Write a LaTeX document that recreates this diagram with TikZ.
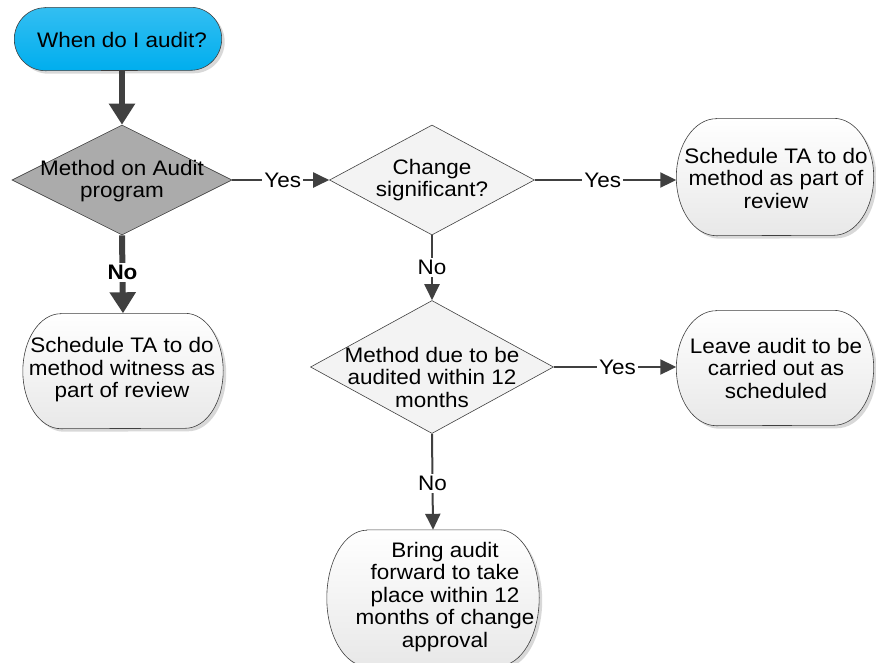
\documentclass[tikz,border=0pt]{standalone}
\usepackage{fontspec}
\setmainfont[FakeStretch=1.07]{Liberation Sans}
\usetikzlibrary{shapes.geometric,arrows.meta,shadows,backgrounds}
\definecolor{linegray}{HTML}{404040}
\definecolor{startblue}{HTML}{00AEEE}
\definecolor{darkdia}{HTML}{ABABAB}
\definecolor{lightdia}{HTML}{F3F3F3}
\definecolor{termfill}{HTML}{E8E8E8}
\tikzset{
  txt/.style={font=\fontsize{21}{22.5}\selectfont, align=center, inner sep=0pt},
  shade box/.style={drop shadow={shadow xshift=3pt, shadow yshift=-3pt, fill=black!30, opacity=0.5}},
  termbox/.style={rectangle, inner sep=0pt, txt},
  termline/.style={draw=linegray, line width=0.6pt, shade box, top color=white, bottom color=termfill},
  startline/.style={draw=linegray, line width=0.6pt, shade box, top color=startblue!80!white, bottom color=startblue},
  decision/.style={diamond, draw=linegray, line width=0.6pt, inner sep=0pt, aspect=2},
  flow/.style={draw=linegray, line width=2pt, -{Triangle[length=16pt, width=15pt]}},
  bigflow/.style={draw=linegray, line width=6pt, -{Triangle[length=21pt, width=25pt]}},
  lbl/.style={fill=white, txt, inner sep=2pt, text=black},
}
% outline of a terminal: straight top and bottom, elliptic ends
% #1 node, #2 end x-radius, #3 half height, #4 style
\newcommand\termoutline[4]{%
  \path[#4] ([xshift=#2]#1.north west) -- ([xshift=-#2]#1.north east)
    arc[start angle=90, end angle=-90, x radius=#2, y radius=#3]
    -- ([xshift=#2]#1.south west)
    arc[start angle=270, end angle=90, x radius=#2, y radius=#3] -- cycle;}
\begin{document}
\begin{tikzpicture}[x=1pt, y=-1pt]
  \useasboundingbox (0,0) rectangle (876,662);

  % terminal frames (text nodes; outlines go on the background layer)
  \node[termbox, minimum width=207pt, minimum height=63pt] (start) at (118,39) {};
  \node[txt] (startt) at (122,40) {When do I audit?};
  \node[termbox, minimum width=197pt, minimum height=117pt] (t1) at (775,177) {};
  \node[txt] (t1t) at (776,178) {Schedule TA to do\\method as part of\\review};
  \node[termbox, minimum width=197pt, minimum height=115pt] (t2) at (775,368) {};
  \node[txt] (t2t) at (776,368) {Leave audit to be\\carried out as\\scheduled};
  \node[termbox, minimum width=200pt, minimum height=115pt] (t3) at (123,371) {};
  \node[txt] (t3t) at (122,370) {Schedule TA to do\\method witness as\\part of review};
  \node[termbox, minimum width=212pt, minimum height=136pt] (t4) at (433,598) {};
  \node[txt] (t4t) at (445,597) {Bring audit\\forward to take\\place within 12\\months of change\\approval};

  \begin{pgfonlayer}{background}
    \termoutline{start}{31pt}{31.5pt}{startline}
    \termoutline{t1}{40pt}{58.5pt}{termline}
    \termoutline{t2}{40pt}{57.5pt}{termline}
    \termoutline{t3}{38pt}{57.5pt}{termline}
    \termoutline{t4}{40pt}{68pt}{termline}
  \end{pgfonlayer}

  % decisions
  \node[decision, fill=darkdia, minimum width=220pt, minimum height=110pt] (d1) at (122,180) {};
  \node[txt] (d1t) at (122,181) {Method on Audit\\program};

  \node[decision, fill=lightdia, minimum width=205pt, minimum height=110pt] (d2) at (432,180) {};
  \node[txt] (d2t) at (432,180) {Change\\significant?};

  \node[decision, fill=lightdia, minimum width=243pt, minimum height=133pt] (d3) at (432,367) {};
  \node[txt] (d3t) at (432,377) {Method due to be\\audited within 12\\months};

  % connectors
  \draw[bigflow] (start.south -| d1.north) -- (d1.north);
  \draw[bigflow] (d1.south) -- node[lbl, pos=0.48, font=\fontsize{21}{22.5}\selectfont\bfseries] {No} (t3.north);

  \draw[flow] (d1.east) -- node[lbl, pos=0.52] {Yes} (d2.west);
  \draw[flow] (d2.east) -- node[lbl, pos=0.48] {Yes} (d2.east -| t1.west);
  \draw[flow] (d2.south) -- node[lbl, pos=0.5] {No} (d3.north);
  \draw[flow] (d3.east) -- node[lbl, pos=0.52] {Yes} (d3.east -| t2.west);
  \draw[flow] (d3.south) -- node[lbl, pos=0.52] {No} (t4.north);
\end{tikzpicture}
\end{document}
